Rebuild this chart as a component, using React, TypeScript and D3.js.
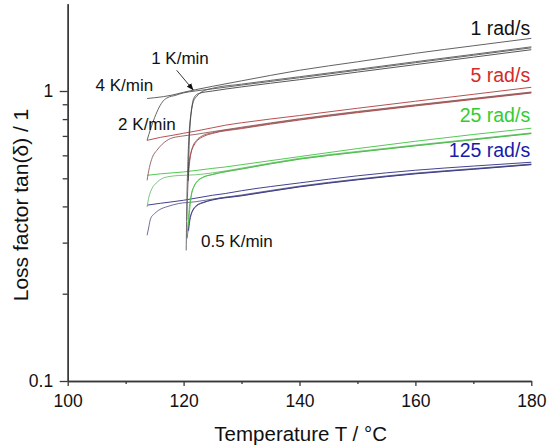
import React, { useEffect, useRef } from "react";
import * as d3 from "d3";

type P = [number, number];

// Temperature axis ticks and loss-factor ticks
const xMajorTicks = [100, 120, 140, 160, 180];
const xMinorTicks = [110, 130, 150, 170];
const yMajorTicks = [0.1, 1];
const yMinorTicks = [0.2, 0.3, 0.4, 0.5, 0.6, 0.7, 0.8, 0.9];

// 1 rad/s
const r1_4K: P[] = [[113.7,0.942],[115,0.948],[116.5,0.956],[118,0.968],[120,0.99],[122,1.01],[125,1.038],[130,1.084],[140,1.179],[150,1.261],[160,1.349],[170,1.432],[180,1.519]];
const r1_2K: P[] = [[113.7,0.676],[114.3,0.74],[115.0,0.81],[115.8,0.88],[116.5,0.925],[117.3,0.95],[118.5,0.965],[120,0.985],[122,1.0],[125,1.017],[130,1.048],[140,1.111],[150,1.179],[160,1.252],[170,1.328],[180,1.409]];
const r1_1K: P[] = [[120.8,0.49],[120.95,0.65],[121.2,0.8],[121.5,0.9],[121.9,0.955],[122.6,0.98],[125,1.0],[130,1.033],[140,1.094],[150,1.162],[160,1.233],[170,1.308],[180,1.388]];
const r1_05K: P[] = [[120.45,0.282],[120.55,0.4],[120.75,0.58],[121.0,0.74],[121.3,0.84],[121.7,0.92],[122.3,0.96],[123.2,0.995],[125,1.022],[130,1.056],[140,1.12],[150,1.188],[160,1.262],[170,1.338],[180,1.42]];

// 5 rad/s
const r5_4K: P[] = [[113.7,0.676],[116,0.692],[118,0.703],[120,0.715],[122.5,0.73],[125,0.747],[127.2,0.762],[130,0.777],[140,0.823],[150,0.872],[160,0.922],[170,0.974],[180,1.03]];
const r5_2K: P[] = [[113.7,0.492],[114.1,0.545],[114.6,0.59],[115.4,0.625],[116.3,0.655],[117.7,0.685],[119.5,0.698],[122,0.708],[125,0.724],[130,0.75],[140,0.802],[150,0.85],[160,0.896],[170,0.943],[180,0.992]];
const r5_1K: P[] = [[120.8,0.53],[121.0,0.575],[121.3,0.615],[121.8,0.65],[122.4,0.675],[123.5,0.698],[125,0.714],[130,0.742],[140,0.794],[150,0.842],[160,0.888],[170,0.935],[180,0.984]];
const r5_05K: P[] = [[120.55,0.36],[120.7,0.45],[120.9,0.53],[121.2,0.6],[121.6,0.645],[122.2,0.675],[123.2,0.7],[125,0.718],[130,0.746],[140,0.798],[150,0.846],[160,0.892],[170,0.939],[180,0.988]];

// 25 rad/s
const r25_4K: P[] = [[113.7,0.512],[116,0.518],[120,0.526],[125,0.541],[127.2,0.547],[130,0.557],[140,0.594],[150,0.633],[160,0.671],[170,0.708],[180,0.744]];
const r25_2K: P[] = [[113.7,0.398],[114.0,0.43],[114.55,0.461],[115.3,0.482],[116.3,0.499],[117.5,0.507],[119.1,0.511],[122,0.514],[125,0.522],[130,0.542],[140,0.586],[150,0.619],[160,0.651],[170,0.683],[180,0.717]];
const r25_1K: P[] = [[120.85,0.344],[121.05,0.39],[121.35,0.44],[121.8,0.47],[122.4,0.49],[123.3,0.504],[125,0.515],[130,0.538],[140,0.582],[150,0.615],[160,0.647],[170,0.679],[180,0.713]];
const r25_05K: P[] = [[120.6,0.318],[120.8,0.36],[121.0,0.4],[121.3,0.435],[121.8,0.468],[122.4,0.488],[123.4,0.504],[125,0.516],[130,0.539],[140,0.583],[150,0.616],[160,0.648],[170,0.68],[180,0.714]];

// 125 rad/s
const r125_4K: P[] = [[113.7,0.404],[116,0.41],[120,0.42],[125,0.437],[127.2,0.443],[130,0.453],[140,0.482],[150,0.51],[160,0.533],[170,0.551],[180,0.568]];
const r125_2K: P[] = [[113.7,0.318],[114.0,0.34],[114.3,0.363],[115.0,0.378],[115.7,0.388],[117.3,0.4],[119.1,0.409],[122,0.415],[125,0.424],[130,0.438],[140,0.47],[150,0.497],[160,0.521],[170,0.54],[180,0.56]];
const r125_1K: P[] = [[120.85,0.33],[121.05,0.355],[121.3,0.375],[121.7,0.392],[122.3,0.404],[123.2,0.412],[125,0.421],[130,0.435],[140,0.467],[150,0.494],[160,0.518],[170,0.537],[180,0.557]];
const r125_05K: P[] = [[120.6,0.31],[120.8,0.335],[121.0,0.358],[121.4,0.38],[121.9,0.395],[122.5,0.405],[123.3,0.411],[125,0.422],[130,0.436],[140,0.468],[150,0.495],[160,0.519],[170,0.538],[180,0.558]];

const series = [
  { data: r125_2K, color: "#5e5e8c" },
  { data: r125_05K, color: "#5a5a86" },
  { data: r125_1K, color: "#34348a" },
  { data: r125_4K, color: "#2c2c84" },
  { data: r25_2K, color: "#6cbf6c" },
  { data: r25_05K, color: "#6ab86a" },
  { data: r25_1K, color: "#44c044" },
  { data: r25_4K, color: "#3fc43f" },
  { data: r5_2K, color: "#8c5a5a" },
  { data: r5_05K, color: "#8a5858" },
  { data: r5_1K, color: "#b04444" },
  { data: r5_4K, color: "#b03c3c" },
  { data: r1_2K, color: "#555555" },
  { data: r1_05K, color: "#5a5a5a" },
  { data: r1_1K, color: "#444444" },
  { data: r1_4K, color: "#505050" },
];

// Text annotations
const freqLabels: [string, number, number, string][] = [
  ["1 rad/s", 179.8, 1.556, "#111111"],
  ["5 rad/s", 179.8, 1.071, "#d42a2a"],
  ["25 rad/s", 179.8, 0.78, "#33cc33"],
  ["125 rad/s", 179.8, 0.591, "#1a1aaa"],
];
const rateLabels: [string, number, number][] = [
  ["4 K/min", 104.8, 0.998],
  ["2 K/min", 108.7, 0.732],
  ["1 K/min", 114.4, 1.236],
  ["0.5 K/min", 123.0, 0.289],
];
const arrowFrom: P = [118.8, 1.179];
const arrowTo: P = [121.7, 1.006];

const W = 550;
const H = 447;
const FONT = "'Liberation Sans', Arial, Helvetica, sans-serif";

export default function App() {
  const axRef = useRef<SVGGElement>(null);

  const x = d3.scaleLinear().domain([100, 180]).range([67.7, 531.3]);
  const y = d3.scaleLog().domain([0.1, 2]).range([381, 381 - 290 * Math.log10(20)]);

  useEffect(() => {
    const g = d3.select(axRef.current);
    g.selectAll("*").remove();
    const xa = g.append("g").attr("transform", `translate(0,${y(0.1)})`);
    xa.call(d3.axisBottom(x).tickValues(xMinorTicks).tickSize(3).tickSizeOuter(0).tickFormat(() => ""));
    const xb = g.append("g").attr("transform", `translate(0,${y(0.1)})`);
    xb.call(d3.axisBottom(x).tickValues(xMajorTicks).tickSize(5).tickPadding(8.6).tickSizeOuter(0).tickFormat(d3.format("d")));
    const ya = g.append("g").attr("transform", `translate(${x(100)},0)`);
    ya.call(d3.axisLeft(y).tickValues(yMinorTicks).tickSize(5).tickSizeOuter(0).tickFormat(() => ""));
    const yb = g.append("g").attr("transform", `translate(${x(100)},0)`);
    yb.call(d3.axisLeft(y).tickValues(yMajorTicks).tickSize(8).tickPadding(6.5).tickSizeOuter(0).tickFormat((d: any) => String(d)));
    g.selectAll("path.domain").attr("stroke", "#383838").attr("stroke-width", 1.4);
    g.selectAll(".tick line").attr("stroke", "#383838").attr("stroke-width", 1.3);
    g.selectAll(".tick text").attr("font-family", FONT).attr("font-size", 17.5).attr("fill", "#111");
  }, []);

  const line = d3
    .line<P>()
    .x((d) => x(d[0]))
    .y((d) => y(d[1]))
    .curve(d3.curveMonotoneX);

  return (
    <svg width={W} height={H} style={{ position: "absolute", left: 0, top: 0, background: "#fff" }}>
      <defs>
        <marker id="arr" viewBox="0 0 10 10" refX="10" refY="5" markerWidth="7" markerHeight="7" orient="auto" markerUnits="userSpaceOnUse">
          <path d="M0,1 L10,5 L0,9 z" fill="#111" />
        </marker>
      </defs>
      <rect x={0} y={0} width={W} height={H} fill="#fff" />
      {series.map((s, i) => (
        <path key={i} d={line(s.data) || ""} fill="none" stroke={s.color} strokeWidth={0.9} />
      ))}
      <g ref={axRef} />
      {freqLabels.map(([t, tx, v, c]) => (
        <text key={t} x={x(tx)} y={y(v)} textAnchor="end" fontFamily={FONT} fontSize={19.5} fill={c}>
          {t}
        </text>
      ))}
      {rateLabels.map(([t, tx, v]) => (
        <text key={t} x={x(tx)} y={y(v)} fontFamily={FONT} fontSize={17} fill="#111">
          {t}
        </text>
      ))}
      <line
        x1={x(arrowFrom[0])}
        y1={y(arrowFrom[1])}
        x2={x(arrowTo[0])}
        y2={y(arrowTo[1])}
        stroke="#222"
        strokeWidth={0.9}
        markerEnd="url(#arr)"
      />
      <text x={300.7} y={441} textAnchor="middle" fontFamily={FONT} fontSize={20.5} fill="#111">
        Temperature T / °C
      </text>
      <text transform="translate(28,205) rotate(-90)" textAnchor="middle" fontFamily={FONT} fontSize={21} fill="#111">
        Loss factor tan(δ) / 1
      </text>
    </svg>
  );
}
